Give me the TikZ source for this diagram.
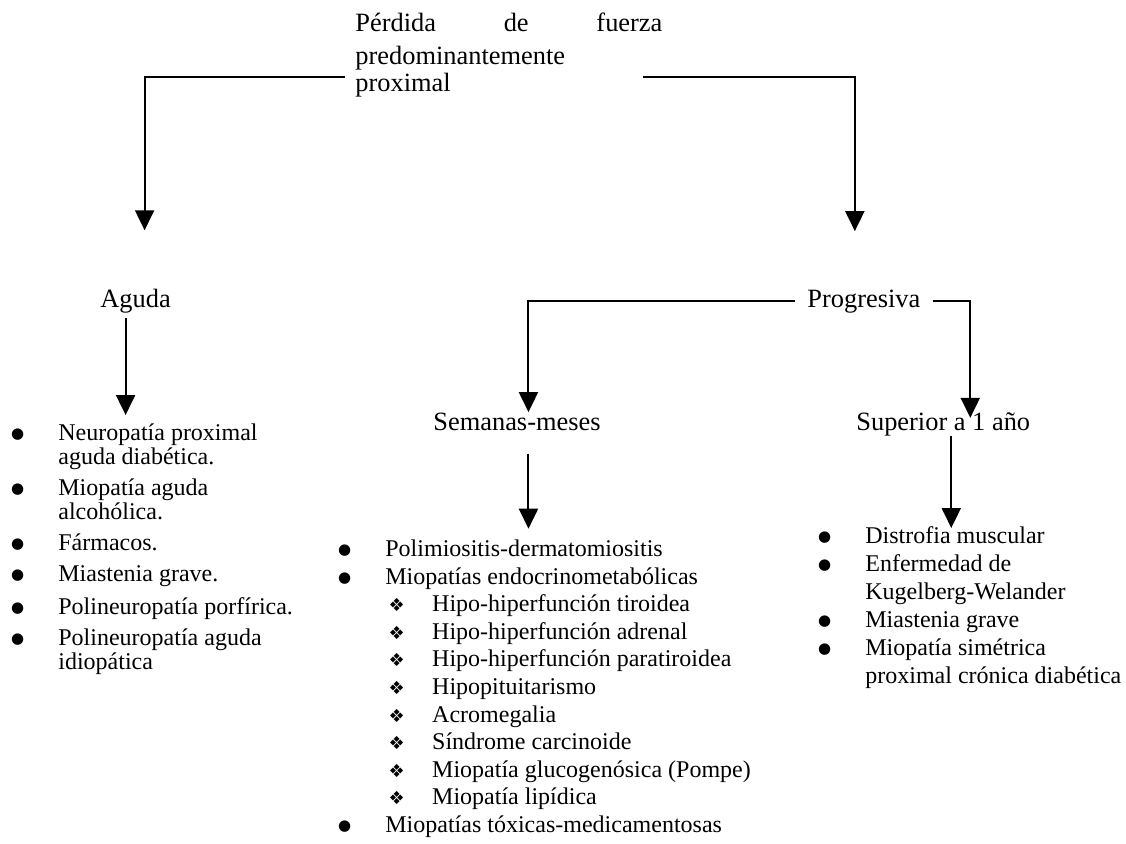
\documentclass[tikz,border=0pt]{standalone}
\usepackage{fontspec}
\setmainfont{Liberation Serif}
\newfontfamily\symfont{DejaVu Sans}
\usepackage{tikz}
\usetikzlibrary{arrows.meta}
\tikzstyle{titlebox} = [anchor=north west, align=left, inner xsep=5pt, inner ysep=0pt, font=\fontsize{13.2}{13.5}\selectfont]
\tikzstyle{heading} = [anchor=base west, inner sep=0pt, font=\fontsize{13.2}{15}\selectfont]
\tikzstyle{items} = [anchor=north west, align=left, inner xsep=0pt, inner ysep=4pt]
\tikzstyle{arrow} = [line width=1pt,-{Triangle[width=9.5pt,length=10pt]}]
\newcommand{\bul}{\strut\makebox[23.6pt][l]{\raisebox{0.8pt}{\symfont\fontsize{7.5}{7.5}\selectfont ●}}}
\newcommand{\cont}{\strut\hspace*{23.6pt}}
\newcommand{\diam}{\strut\hspace*{25.2pt}\makebox[21.8pt][l]{\symfont\fontsize{9}{9}\selectfont ❖}}

\begin{document}
\begin{tikzpicture}[x=0.5pt, y=-0.5pt]
\useasboundingbox (0,0) rectangle (1126,843);
\node (title) [titlebox] at (345,12.1) {\strut\hbox to 153.5pt{Pérdida\hfill de\hfill fuerza}\\[3pt]predominantemente\\proximal};
\node (aguda) [heading] at (100,307) {Aguda};
\node (progresiva) [heading, inner xsep=6pt] at (795,307) {Progresiva};
\node (semanas) [heading] at (433,430) {Semanas-meses};
\node (superior) [heading] at (856,430) {Superior a 1 año};

\node (listAguda) [items, font=\fontsize{12}{12}\selectfont] at (10.8,415) {\bul Neuropatía proximal\\
\cont aguda diabética.\\[3.5pt]
\bul Miopatía aguda\\
\cont alcohólica.\\[3.5pt]
\bul Fármacos.\\[3.5pt]
\bul Miastenia grave.\\[3.5pt]
\bul Polineuropatía porfírica.\\[3.5pt]
\bul Polineuropatía aguda\\
\cont idiopática};
\node (listSemanas) [items, font=\fontsize{12}{13.8}\selectfont] at (337.8,528.7) {\bul Polimiositis-dermatomiositis\\
\bul Miopatías endocrinometabólicas\\
\diam Hipo-hiperfunción tiroidea\\
\diam Hipo-hiperfunción adrenal\\
\diam Hipo-hiperfunción paratiroidea\\
\diam Hipopituitarismo\\
\diam Acromegalia\\
\diam Síndrome carcinoide\\
\diam Miopatía glucogenósica (Pompe)\\
\diam Miopatía lipídica\\
\bul Miopatías tóxicas-medicamentosas};
\node (listSuperior) [items, font=\fontsize{12}{14}\selectfont] at (817.8,515.4) {\bul Distrofia muscular\\
\bul Enfermedad de\\
\cont Kugelberg-Welander\\
\bul Miastenia grave\\
\bul Miopatía simétrica\\
\cont proximal crónica diabética};

%---------------------------------ARROWS
\draw [arrow] ([yshift=-11.3pt]title.west) -| ([xshift=4.5pt,yshift=29pt]aguda.north);
\draw [arrow] ([xshift=-15pt,yshift=-11.3pt]title.east) -| ([xshift=-4.5pt,yshift=29pt]progresiva.north);
\draw [arrow] (progresiva.west) -| ([xshift=5.75pt]semanas.north);
\draw [arrow] (progresiva.east) -| ([xshift=13.5pt,yshift=-3pt]superior.north);
\draw [arrow] ([xshift=-5pt,yshift=-2.6pt]aguda.south) -- ([xshift=-5pt]aguda.south |- listAguda.north);
\draw [arrow] ([xshift=5.75pt,yshift=-11.5pt]semanas.south) -- ([xshift=5.75pt]semanas.south |- listSemanas.north);
\draw [arrow] ([xshift=4pt]superior.south) -- ([xshift=4pt,yshift=-6.3pt]superior.south |- listSuperior.north);

\end{tikzpicture}
\end{document}
